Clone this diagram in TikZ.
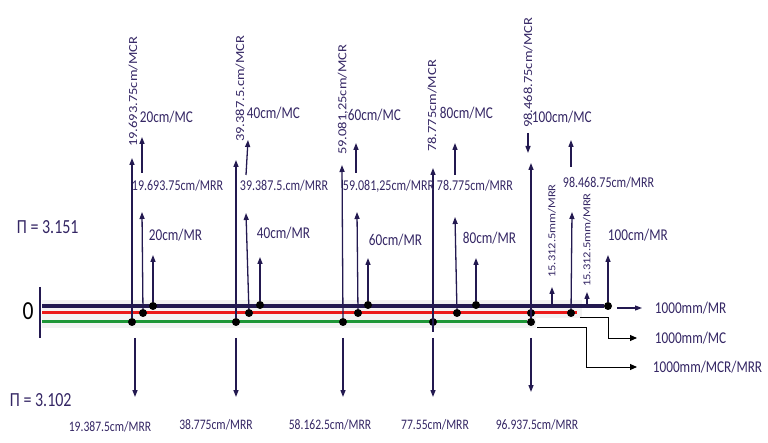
\documentclass[tikz,border=0pt]{standalone}
\usepackage{fontspec}
\setmainfont{Carlito}
\definecolor{mynavy}{RGB}{35,25,80}
\definecolor{mytext}{RGB}{52,38,100}
\definecolor{myred}{RGB}{235,25,25}
\definecolor{mygreen}{RGB}{30,150,55}
\usetikzlibrary{positioning,arrows.meta,backgrounds}

\begin{document}
\begin{tikzpicture}[x=1pt,y=-1pt,
    dot/.style={circle,fill=black,inner sep=0pt,minimum size=8pt},
    lbl/.style={text=mytext,inner sep=1pt,xscale=0.8,font=\fontsize{16.5}{16.5}\selectfont},
    slbl/.style={lbl,font=\fontsize{15}{15}\selectfont},
    blbl/.style={lbl,font=\fontsize{14.5}{14.5}\selectfont},
    rlbl/.style={text=mytext,inner sep=1pt,rotate=90,yscale=0.85,anchor=west,font=\fontsize{14.5}{14.5}\selectfont},
    arr/.style={draw=mynavy,line width=1.3pt,-{Triangle[length=7pt,width=5pt]}},
    elbow/.style={draw=black,line width=0.9pt,-{Triangle[length=7pt,width=6pt]}}
    ]
    \useasboundingbox (0,0) rectangle (768,443);

    \node (g1) [dot] at (132,322) {};
    \node (r1) [dot] at (143,313) {};
    \node (d1) [dot] at (153,306) {};
    \node (g2) [dot] at (236,322) {};
    \node (r2) [dot] at (249,313) {};
    \node (d2) [dot] at (260,305) {};
    \node (g3) [dot] at (343,322) {};
    \node (r3) [dot] at (358,313) {};
    \node (d3) [dot] at (368,305) {};
    \node (g4) [dot] at (433,322) {};
    \node (r4) [dot] at (457,313) {};
    \node (d4) [dot] at (476,305) {};
    \node (g5) [dot] at (531,322) {};
    \node (r5) [dot] at (531,313) {};
    \node (s5) [dot] at (571,313) {};
    \node (d5) [dot] at (608,306) {};

    % the three bars
    \coordinate (od) at (42,306);
    \coordinate (or) at (42,313);
    \coordinate (og) at (42,322);
    \coordinate (er) at (577,313);
    \coordinate (bt) at (40,287);
    \coordinate (bb) at (40,338);
    \begin{pgfonlayer}{background}
    \fill[gray!10] (42,300) rectangle (582,318);
    \fill[gray!10] (42,318) rectangle (536,328);
    \draw[mygreen,line width=3pt] (og) -- (g5);
    \draw[myred,line width=3pt] (or) -- (er);
    \draw[mynavy,line width=4pt] (od) -- (d5);
    \draw[mynavy,line width=2.5pt] (bt) -- (bb);
    \end{pgfonlayer}

    % arrow ends
    \coordinate (mcr1) at (132,158);
    \coordinate (mca1) at (142,173);
    \coordinate (mcb1) at (142,137);
    \coordinate (mrr1) at (142,212);
    \coordinate (mr1) at (153,255);
    \coordinate (dna1) at (135,338);
    \coordinate (dnb1) at (135,397);

    \coordinate (mcr2) at (236,160);
    \coordinate (mca2) at (246,175);
    \coordinate (mcb2) at (248,140);
    \coordinate (mrr2) at (246,213);
    \coordinate (mr2) at (260,257);
    \coordinate (dna2) at (236,338);
    \coordinate (dnb2) at (236,397);

    \coordinate (mcr3) at (342,165);
    \coordinate (mca3) at (356,173);
    \coordinate (mcb3) at (356,143);
    \coordinate (mrr3) at (357,212);
    \coordinate (mr3) at (368,258);
    \coordinate (dna3) at (343,338);
    \coordinate (dnb3) at (343,397);

    \coordinate (low4) at (433,332);
    \coordinate (mcr4) at (433,168);
    \coordinate (mca4) at (455,175);
    \coordinate (mcb4) at (455,143);
    \coordinate (mrr4) at (455,217);
    \coordinate (mr4) at (476,258);
    \coordinate (dna4) at (433,338);
    \coordinate (dnb4) at (433,397);

    \coordinate (mcr5) at (531,163);
    \coordinate (mcx5) at (528,133);
    \coordinate (mcy5) at (528,153);
    \coordinate (mca5) at (571,167);
    \coordinate (mcb5) at (571,140);
    \coordinate (mrr5) at (572,212);
    \coordinate (sa5) at (552,306);
    \coordinate (sb5) at (552,287);
    \coordinate (ta5) at (587,306);
    \coordinate (tb5) at (587,292);
    \coordinate (mr5) at (608,255);
    \coordinate (dna5) at (531,338);
    \coordinate (dnb5) at (531,392);

    % the arrows
    \draw[arr] (g1) -- (mcr1);
    \draw[arr] (mca1) -- (mcb1);
    \draw[arr] (r1) -- (mrr1);
    \draw[arr] (d1) -- (mr1);
    \draw[arr] (dna1) -- (dnb1);

    \draw[arr] (g2) -- (mcr2);
    \draw[arr] (mca2) -- (mcb2);
    \draw[arr] (r2) -- (mrr2);
    \draw[arr] (d2) -- (mr2);
    \draw[arr] (dna2) -- (dnb2);

    \draw[arr] (g3) -- (mcr3);
    \draw[arr] (mca3) -- (mcb3);
    \draw[arr] (r3) -- (mrr3);
    \draw[arr] (d3) -- (mr3);
    \draw[arr] (dna3) -- (dnb3);

    \draw[arr] (low4) -- (mcr4);
    \draw[arr] (mca4) -- (mcb4);
    \draw[arr] (r4) -- (mrr4);
    \draw[arr] (d4) -- (mr4);
    \draw[arr] (dna4) -- (dnb4);

    \draw[arr] (g5) -- (mcr5);
    \draw[arr] (mcx5) -- (mcy5);
    \draw[arr] (mca5) -- (mcb5);
    \draw[arr] (s5) -- (mrr5);
    \draw[arr] (sa5) -- (sb5);
    \draw[arr] (ta5) -- (tb5);
    \draw[arr] (d5) -- (mr5);
    \draw[arr] (dna5) -- (dnb5);

    % outputs
    \coordinate (oa) at (617,308);
    \coordinate (ob) at (642,308);
    \coordinate (pa) at (580,317);
    \coordinate (pb) at (637,338);
    \coordinate (qa) at (537,327);
    \coordinate (qb) at (637,367);
    \draw[arr,line width=1.1pt] (oa) -- (ob);
    \draw[elbow] (pa) -- (608,317) |- (pb);
    \draw[elbow] (qa) -- (586,327) |- (qb);
    \node (omr) [lbl,right=12pt of ob] {1000mm/MR};
    \node (omc) [lbl,right=17pt of pb] {1000mm/MC};
    \node (omx) [lbl,right=15pt of qb] {1000mm/MCR/MRR};

    % labels
    \node (l1a) [rlbl] at (133,148) {19.693.75cm/MCR};
    \node (l1b) [lbl,anchor=west] at (139,117) {20cm/MC};
    \node (l1c) [slbl,anchor=west] at (131,186) {19.693.75cm/MRR};
    \node (l1d) [lbl,anchor=west] at (148,235) {20cm/MR};
    \node (l1e) [blbl] at (110,427) {19.387.5cm/MRR};

    \node (l2a) [rlbl] at (240,143) {39.387.5.cm/MCR};
    \node (l2b) [lbl,anchor=west] at (246,113) {40cm/MC};
    \node (l2c) [slbl,anchor=west] at (239,186) {39.387.5.cm/MRR};
    \node (l2d) [lbl,anchor=west] at (256,233) {40cm/MR};
    \node (l2e) [blbl] at (216,425) {38.775cm/MRR};

    \node (l3a) [rlbl] at (343,156) {59.081,25cm/MCR};
    \node (l3b) [lbl,anchor=west] at (347,115) {60cm/MC};
    \node (l3c) [slbl,anchor=west] at (342,186) {59.081,25cm/MRR};
    \node (l3d) [lbl,anchor=west] at (368,240) {60cm/MR};
    \node (l3e) [blbl] at (330,425) {58.162.5cm/MRR};

    \node (l4a) [rlbl] at (432,153) {78.775cm/MCR};
    \node (l4b) [lbl,anchor=west] at (439,113) {80cm/MC};
    \node (l4c) [slbl,anchor=west] at (436,186) {78.775cm/MRR};
    \node (l4d) [lbl,anchor=west] at (462,238) {80cm/MR};
    \node (l4e) [blbl] at (435,425) {77.55cm/MRR};

    \node (l5a) [rlbl] at (528,129) {98.468.75cm/MCR};
    \node (l5b) [lbl,anchor=west] at (531,117) {100cm/MC};
    \node (l5c) [slbl,anchor=west] at (562,183) {98.468.75cm/MRR};
    \node (l5f) [rlbl,font=\fontsize{12.5}{12.5}\selectfont] at (552,279) {15.312.5mm/MRR};
    \node (l5g) [rlbl,font=\fontsize{12.5}{12.5}\selectfont] at (587,288) {15.312.5mm/MRR};
    \node (l5d) [lbl,anchor=west] at (607,235) {100cm/MR};
    \node (l5e) [blbl] at (537,425) {96.937.5cm/MRR};

    \node (pi1) [lbl,anchor=west,font=\fontsize{20}{20}\selectfont] at (16,227) {Π = 3.151};
    \node (pi2) [lbl,anchor=west,font=\fontsize{20}{20}\selectfont] at (9,400) {Π = 3.102};
    \node (zero) [xscale=0.83,font=\fontsize{26}{26}\selectfont] at (28,311) {0};
\end{tikzpicture}
\end{document}
